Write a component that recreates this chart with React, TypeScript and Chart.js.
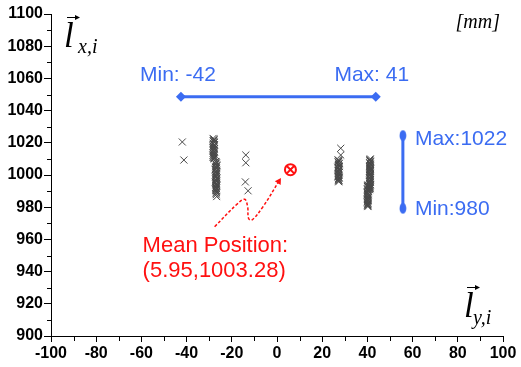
import React, { useEffect, useRef } from "react";
import { Chart, registerables } from "chart.js";

Chart.register(...registerables);

// ---- axis ranges / ticks ----
const xMin = -100;
const xMax = 100;
const yMin = 900;
const yMax = 1100;
const labelStep = 20;
const minorStep = 10;

// ---- measured positions (l_y,i , l_x,i) ----
const farLeftX = [-41.9, -41.2];
const farLeftY = [1020.5, 1009.3];

const colAX = [-28.3, -27.9, -28.1, -27.7, -28.2, -27.8, -28.0, -28.3, -27.9, -28.1, -27.7, -28.2, -27.9, -28.0, -28.3, -27.8];
const colAY = [1022.7, 1021.8, 1021.0, 1020.2, 1019.3, 1018.5, 1017.6, 1016.8, 1016.0, 1015.1, 1014.3, 1013.4, 1012.6, 1011.8, 1010.9, 1010.1];
const colA2X = [-27.8, -28.2, -27.9, -28.1, -27.7, -28.3, -28.0, -27.8, -28.2, -27.9, -28.1, -27.8, -28.3, -28.0, -27.9];
const colA2Y = [1022.2, 1021.4, 1020.6, 1019.7, 1018.9, 1018.0, 1017.2, 1016.4, 1015.5, 1014.7, 1013.8, 1013.0, 1012.2, 1011.3, 1010.5];

const colBX = [-27.2, -26.8, -27.0, -26.6, -27.1, -26.9, -27.3, -26.7, -27.0, -26.8, -27.2, -26.9, -26.6, -27.1, -26.9, -27.3, -26.8, -27.0, -26.7, -27.1, -26.9, -27.0, -26.8, -26.9, -26.7];
const colBY = [1008.4, 1007.5, 1006.7, 1005.8, 1005.0, 1004.1, 1003.3, 1002.4, 1001.6, 1000.7, 999.9, 999.0, 998.2, 997.3, 996.5, 995.6, 994.8, 993.9, 993.1, 992.2, 991.4, 990.5, 989.2, 987.8, 986.6];
const colB2X = [-26.9, -27.2, -26.7, -27.0, -26.8, -27.2, -26.9, -27.1, -26.7, -27.0, -26.9, -27.2, -26.8, -27.0, -26.7, -27.1, -26.9, -26.8, -27.0, -26.9, -27.1, -26.8, -27.0];
const colB2Y = [1008.0, 1007.1, 1006.2, 1005.4, 1004.5, 1003.7, 1002.8, 1002.0, 1001.1, 1000.3, 999.4, 998.6, 997.7, 996.9, 996.0, 995.2, 994.3, 993.5, 992.6, 991.8, 990.9, 989.9, 988.5];

const midX = [-13.8, -13.8, -14.0, -12.8];
const midY = [1012.4, 1007.6, 995.7, 990.2];

const rightAX = [28.2, 28.2, 27.0, 27.4, 27.1, 27.5, 27.2, 27.6, 27.0, 27.4, 27.1, 27.5, 27.2, 27.3, 27.0, 27.5, 27.2, 27.4, 27.3];
const rightAY = [1016.6, 1012.4, 1009.5, 1008.6, 1007.8, 1006.9, 1006.1, 1005.2, 1004.4, 1003.5, 1002.7, 1001.8, 1001.0, 1000.1, 999.3, 998.4, 997.6, 996.7, 995.8];
const rightA2X = [27.3, 27.1, 27.5, 27.2, 27.4, 27.0, 27.3, 27.5, 27.1, 27.4, 27.2, 27.3, 27.0, 27.4, 27.2, 27.3];
const rightA2Y = [1009.0, 1008.2, 1007.3, 1006.5, 1005.6, 1004.8, 1003.9, 1003.1, 1002.2, 1001.4, 1000.5, 999.7, 998.8, 998.0, 997.1, 996.3];

const rightBX = [41.3, 41.0, 41.4, 41.1, 41.3, 40.9, 41.2, 41.4, 41.0, 41.3, 41.1, 41.2, 40.9, 41.4, 41.0, 41.3, 41.1, 41.2, 41.0, 41.3, 41.1, 41.2, 41.0];
const rightBY = [1010.0, 1009.1, 1008.3, 1007.4, 1006.6, 1005.7, 1004.8, 1004.0, 1003.1, 1002.3, 1001.4, 1000.5, 999.7, 998.8, 998.0, 997.1, 996.2, 995.4, 994.5, 993.7, 992.8, 991.9, 991.0];
const rightB2X = [41.1, 41.3, 41.0, 41.2, 41.4, 41.1, 41.0, 41.3, 41.2, 41.0, 41.3, 41.1, 41.2, 41.0, 41.4, 41.1, 41.2, 41.0, 41.3, 41.1, 41.2, 41.1];
const rightB2Y = [1009.5, 1008.7, 1007.8, 1007.0, 1006.1, 1005.2, 1004.4, 1003.5, 1002.7, 1001.8, 1001.0, 1000.1, 999.2, 998.4, 997.5, 996.7, 995.8, 994.9, 994.1, 993.2, 992.3, 991.5];

const rightCX = [40.2, 40.0, 40.4, 40.1, 40.3, 39.9, 40.2, 40.4, 40.0, 40.3, 40.1, 40.2, 39.9, 40.3, 40.1, 40.2];
const rightCY = [993.8, 992.9, 992.0, 991.1, 990.2, 989.3, 988.4, 987.5, 986.6, 985.7, 984.8, 983.9, 983.0, 982.1, 981.2, 980.4];
const rightC2X = [40.1, 40.3, 40.0, 40.2, 40.4, 40.1, 40.0, 40.3, 40.2, 40.1, 40.3, 40.0, 40.2, 40.1, 40.2];
const rightC2Y = [993.3, 992.4, 991.5, 990.6, 989.7, 988.8, 987.9, 987.0, 986.1, 985.2, 984.3, 983.4, 982.5, 981.6, 980.8];

// ---- mean position ----
const meanX = [5.95];
const meanY = [1003.28];

// ---- range annotations ----
const hRangeX = [-42.5, 43.7];
const hRangeY = [1048.6, 1048.6];
const vRangeX = [55.7, 55.7];
const vRangeY = [1024.5, 979.3];

// ---- dashed pointer to mean ----
const pointerX = [-27.6, -17.3, -14.3, -13.0, -12.6, -11.2, -6.2, 0.8];
const pointerY = [967.9, 982.4, 984.9, 980.3, 973.1, 971.9, 980.3, 996.0];

// ---- texts ----
const hMinLabel = "Min: -42";
const hMaxLabel = "Max: 41";
const vMaxLabel = "Max:1022";
const vMinLabel = "Min:980";
const meanLabel1 = "Mean Position:";
const meanLabel2 = "(5.95,1003.28)";
const unitLabel = "[mm]";

const BLUE = "#3b6cf2";
const RED = "#ff1010";
const MARK = "#484848";

const zip = (xs: number[], ys: number[]) => xs.map((x, i) => ({ x, y: ys[i] }));

const SERIF = '"Liberation Serif", "Times New Roman", serif';
const SANS = 'Arial, "Liberation Sans", sans-serif';

function drawVec(ctx: CanvasRenderingContext2D, x: number, baseY: number, sub: string, subDx: number, subDy: number) {
  ctx.fillStyle = "#000";
  ctx.font = `italic 35px ${SERIF}`;
  ctx.textAlign = "left";
  ctx.textBaseline = "alphabetic";
  ctx.fillText("l", x, baseY);
  const ay = baseY - 30;
  ctx.strokeStyle = "#000";
  ctx.lineWidth = 1;
  ctx.beginPath();
  ctx.moveTo(x + 3, ay + 0.5);
  ctx.lineTo(x + 14, ay + 0.5);
  ctx.stroke();
  ctx.beginPath();
  ctx.moveTo(x + 16, ay + 0.5);
  ctx.lineTo(x + 11, ay - 2);
  ctx.lineTo(x + 11, ay + 3);
  ctx.closePath();
  ctx.fill();
  ctx.font = `italic 20px ${SERIF}`;
  ctx.fillText(sub, x + subDx, baseY + subDy);
}

const annotationPlugin = {
  id: "annotationTexts",
  afterDraw(chart: any) {
    const ctx: CanvasRenderingContext2D = chart.ctx;
    const xs = chart.scales.x;
    const ys = chart.scales.y;
    const area = chart.chartArea;
    ctx.save();

    // minor ticks
    ctx.strokeStyle = "#000";
    ctx.lineWidth = 1;
    ctx.beginPath();
    for (let v = xMin + minorStep; v < xMax; v += labelStep) {
      const px = Math.round(xs.getPixelForValue(v)) + 0.5;
      ctx.moveTo(px, area.bottom);
      ctx.lineTo(px, area.bottom + 5);
    }
    for (let v = yMin + minorStep; v < yMax; v += labelStep) {
      const py = Math.round(ys.getPixelForValue(v)) + 0.5;
      ctx.moveTo(area.left - 4, py);
      ctx.lineTo(area.left, py);
    }
    ctx.stroke();

    // blue range labels
    ctx.fillStyle = BLUE;
    ctx.font = `21px ${SANS}`;
    ctx.textBaseline = "alphabetic";
    ctx.textAlign = "center";
    const hy = ys.getPixelForValue(hRangeY[0]);
    ctx.fillText(hMinLabel, xs.getPixelForValue(hRangeX[0]) - 3, hy - 16);
    ctx.fillText(hMaxLabel, xs.getPixelForValue(hRangeX[1]) - 4, hy - 16);
    ctx.textAlign = "left";
    const vx = xs.getPixelForValue(vRangeX[0]);
    ctx.fillText(vMaxLabel, vx + 12, ys.getPixelForValue(vRangeY[0]) + 9);
    ctx.fillText(vMinLabel, vx + 12, ys.getPixelForValue(vRangeY[1]) + 7);

    // red mean labels
    const sx = xs.getPixelForValue(pointerX[0]);
    const sy = ys.getPixelForValue(pointerY[0]);
    ctx.fillStyle = RED;
    ctx.font = `22px ${SANS}`;
    ctx.fillText(meanLabel1, sx - 72, sy + 25);
    ctx.fillText(meanLabel2, sx - 72, sy + 50);

    // unit
    ctx.fillStyle = "#000";
    ctx.font = `italic 20px ${SERIF}`;
    ctx.textAlign = "right";
    ctx.fillText(unitLabel, area.right - 3, area.top + 14);

    // axis symbols
    drawVec(ctx, area.left + 13, area.top + 33, "x,i", 14, 6);
    drawVec(ctx, area.right - 39, area.bottom - 19, "y,i", 9, 7);

    ctx.restore();
  },
};

export default function App() {
  const ref = useRef<HTMLCanvasElement | null>(null);

  useEffect(() => {
    if (!ref.current) return;
    const ell = document.createElement("canvas");
    ell.width = 8;
    ell.height = 12;
    const ectx = ell.getContext("2d")!;
    ectx.fillStyle = BLUE;
    ectx.beginPath();
    ectx.ellipse(4, 6, 3.4, 5.4, 0, 0, Math.PI * 2);
    ectx.fill();

    const positions = [
      ...zip(farLeftX, farLeftY),
      ...zip(colAX, colAY),
      ...zip(colA2X, colA2Y),
      ...zip(colBX, colBY),
      ...zip(colB2X, colB2Y),
      ...zip(midX, midY),
      ...zip(rightAX, rightAY),
      ...zip(rightA2X, rightA2Y),
      ...zip(rightBX, rightBY),
      ...zip(rightB2X, rightB2Y),
      ...zip(rightCX, rightCY),
      ...zip(rightC2X, rightC2Y),
    ];
    const lastIdx = pointerX.length - 1;
    const tickFont = { family: SANS, size: 16, weight: "bold" as const };

    const chart = new Chart(ref.current, {
      type: "scatter",
      data: {
        datasets: [
          {
            label: "mean-circle",
            data: zip(meanX, meanY),
            pointStyle: "circle",
            pointRadius: 5.5,
            borderColor: RED,
            backgroundColor: "rgba(255,255,255,0)",
            borderWidth: 2,
          },
          {
            label: "mean-cross",
            data: zip(meanX, meanY),
            pointStyle: "crossRot",
            pointRadius: 5.5,
            borderColor: RED,
            borderWidth: 2,
          },
          {
            label: "positions",
            data: positions,
            pointStyle: "crossRot",
            pointRadius: 5,
            borderColor: MARK,
            borderWidth: 1,
          },
          {
            label: "pointer",
            data: zip(pointerX, pointerY),
            showLine: true,
            borderColor: RED,
            backgroundColor: RED,
            borderWidth: 1.5,
            borderDash: [3, 2],
            tension: 0.4,
            pointStyle: "triangle",
            pointRotation: 32,
            pointRadius: (c: any) => (c.dataIndex === lastIdx ? 4 : 0),
            pointBorderWidth: 0,
          } as any,
          {
            label: "x-range",
            data: zip(hRangeX, hRangeY),
            showLine: true,
            borderColor: BLUE,
            backgroundColor: BLUE,
            borderWidth: 3,
            pointStyle: "rectRot",
            pointRadius: 5,
            pointBorderWidth: 0,
          },
          {
            label: "y-range",
            data: zip(vRangeX, vRangeY),
            showLine: true,
            borderColor: BLUE,
            backgroundColor: BLUE,
            borderWidth: 3,
            pointStyle: ell as any,
            pointRadius: 5,
          },
        ],
      },
      options: {
        responsive: true,
        maintainAspectRatio: false,
        animation: false,
        events: [],
        layout: { padding: { top: 14, right: 18, left: 0, bottom: 0 } },
        plugins: { legend: { display: false }, tooltip: { enabled: false } },
        scales: {
          x: {
            type: "linear",
            min: xMin,
            max: xMax,
            ticks: {
              stepSize: labelStep,
              color: "#000",
              padding: 2,
              maxRotation: 0,
              autoSkip: false,
              font: tickFont,
              callback: (v: any) => String(v),
            },
            grid: { display: true, drawOnChartArea: false, drawTicks: true, tickLength: 6, color: "#000" },
            border: { display: true, color: "#000", width: 1 },
            afterFit: (s: any) => {
              s.height = 31;
            },
          },
          y: {
            type: "linear",
            min: yMin,
            max: yMax,
            ticks: {
              stepSize: labelStep,
              color: "#000",
              padding: 1,
              autoSkip: false,
              font: tickFont,
              callback: (v: any) => String(v),
            },
            grid: { display: true, drawOnChartArea: false, drawTicks: true, tickLength: 7, color: "#000" },
            border: { display: true, color: "#000", width: 1 },
            afterFit: (s: any) => {
              s.width = 51;
            },
          },
        },
      },
      plugins: [annotationPlugin],
    });
    return () => chart.destroy();
  }, []);

  return (
    <div style={{ position: "absolute", left: 0, top: 0, width: 521, height: 367, background: "#fff" }}>
      <canvas ref={ref} />
    </div>
  );
}
